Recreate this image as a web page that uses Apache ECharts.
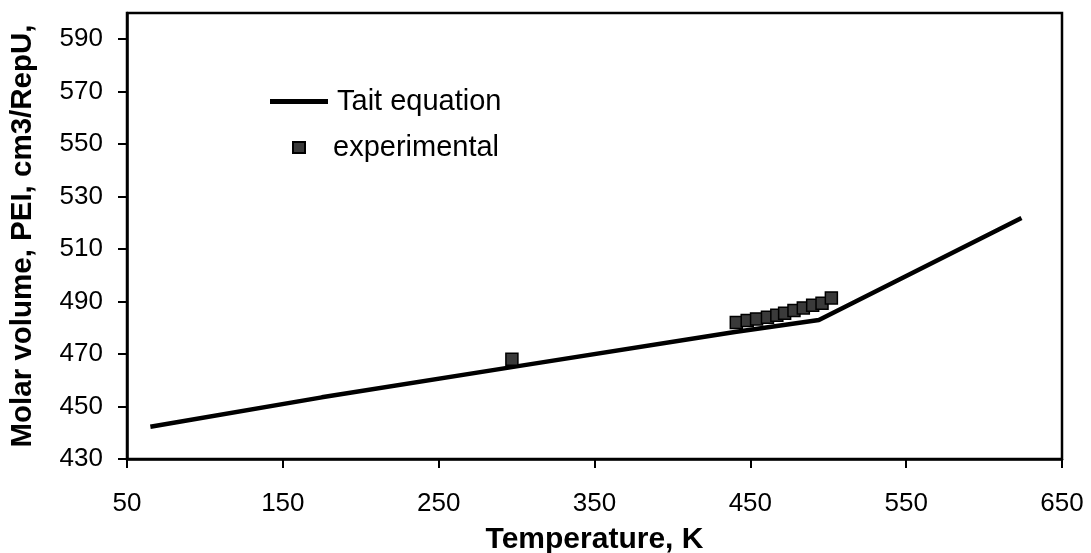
<!DOCTYPE html>
<html>
<head>
<meta charset="utf-8">
<script src="https://cdn.jsdelivr.net/npm/echarts@6/dist/echarts.min.js"></script>
<style>
html,body{margin:0;padding:0;background:#fff;}
#c{width:1091px;height:553px;}
</style>
</head>
<body>
<div id="c"></div>
<script>
// Data
const taitT = [65, 175, 300, 440, 494, 624];
const taitV = [442.3, 453.5, 465.3, 478.4, 483.0, 521.9];
const expT = [297, 441, 448, 454, 461, 467, 472, 478, 484, 490, 496, 502];
const expV = [468.0, 482.0, 482.8, 483.4, 484.0, 484.8, 485.6, 486.6, 487.6, 488.6, 489.4, 491.4];
const xTicks = [50, 150, 250, 350, 450, 550, 650];
const yTicks = [430, 450, 470, 490, 510, 530, 550, 570, 590];

const font = '"Liberation Sans", Arial, sans-serif';
const chart = echarts.init(document.getElementById('c'), null, {renderer: 'canvas'});
chart.setOption({
  backgroundColor: '#fff',
  animation: false,
  grid: {left: 127, right: 29, top: 13, bottom: 94, containLabel: false, outerBoundsMode: 'none',
         show: true, borderColor: '#000', borderWidth: 2.5, backgroundColor: 'transparent'},
  legend: [
    {
      left: 265, top: 82, itemWidth: 58, itemHeight: 5, icon: 'rect',
      textStyle: {fontFamily: font, fontSize: 29, color: '#000', padding: [0, 0, 0, 4]},
      data: [{name: 'Tait equation', icon: 'rect', itemStyle: {color: '#000', borderWidth: 0}}]
    },
    {
      left: 287, top: 128, itemWidth: 12, itemHeight: 11, icon: 'rect',
      textStyle: {fontFamily: font, fontSize: 29, color: '#000', padding: [0, 0, 0, 23]},
      data: [{name: 'experimental', icon: 'rect'}]
    }
  ],
  xAxis: {
    type: 'value', min: 50, max: 650,
    name: 'Temperature, K', nameLocation: 'middle', nameGap: 66,
    nameTextStyle: {fontFamily: font, fontSize: 30, fontWeight: 'bold', color: '#000'},
    axisLine: {show: true, lineStyle: {color: '#000', width: 2.5}},
    axisTick: {show: true, inside: false, length: 9, lineStyle: {color: '#000', width: 2}, customValues: xTicks},
    axisLabel: {fontFamily: font, fontSize: 26, color: '#000', margin: 32, customValues: xTicks},
    splitLine: {show: false}
  },
  yAxis: {
    type: 'value', min: 430, max: 600,
    name: 'Molar volume, PEI, cm3/RepU,', nameLocation: 'middle', nameGap: 89,
    nameTextStyle: {fontFamily: font, fontSize: 29.5, fontWeight: 'bold', color: '#000'},
    axisLine: {show: true, lineStyle: {color: '#000', width: 2.5}},
    axisTick: {show: true, inside: false, length: 9, lineStyle: {color: '#000', width: 2}, customValues: yTicks},
    axisLabel: {fontFamily: font, fontSize: 26, color: '#000', margin: 24, customValues: yTicks},
    splitLine: {show: false}
  },
  series: [
    {
      name: 'Tait equation', type: 'line', symbol: 'none', smooth: false,
      data: taitT.map((t, i) => [t, taitV[i]]),
      lineStyle: {color: '#000', width: 4.5}, itemStyle: {color: '#000'}, z: 2
    },
    {
      name: 'experimental', type: 'scatter', symbol: 'rect', symbolSize: 12,
      data: expT.map((t, i) => [t, expV[i]]),
      itemStyle: {color: '#3a3a3a', borderColor: '#000', borderWidth: 1.5, opacity: 1}, z: 3
    }
  ]
});
</script>
</body>
</html>
